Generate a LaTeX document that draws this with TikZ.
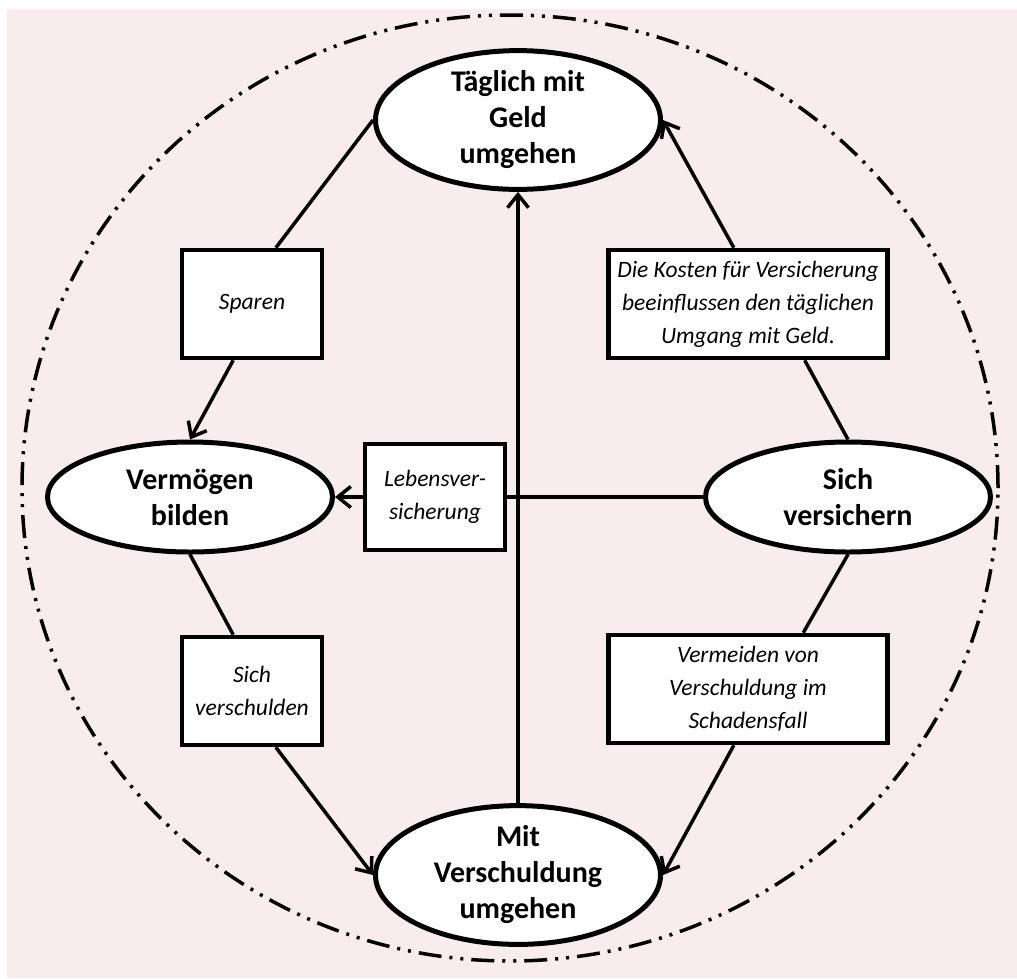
\documentclass[tikz,border=0pt]{standalone}
\usepackage{fontspec}
\setmainfont{Carlito}
\usepackage{tikz}
\usetikzlibrary{arrows.meta,calc,shapes.geometric,positioning}
\definecolor{rosa}{HTML}{F9ECEF}

\begin{document}
\begin{tikzpicture}[x=1pt,y=-1pt,
feld/.style={ellipse,draw,line width=5pt,fill=white,minimum width=285pt,minimum height=110pt,inner sep=0pt,align=center,font=\bfseries\fontsize{30}{36}\selectfont},
kasten/.style={rectangle,draw,line width=4.5pt,fill=white,inner sep=0pt,align=center,font=\itshape\fontsize{23.5}{33}\selectfont},
pfeil/.style={line width=3.5pt,-{Straight Barb[length=13pt,width=21pt,line width=3.5pt]}},
linie/.style={line width=3.5pt}]
\useasboundingbox (0,0) rectangle (1017,978);
\fill[rosa] (7,9) rectangle (1017,978);
\draw[line width=3.5pt,dash pattern=on 23pt off 8pt on 3pt off 8pt on 3pt off 8pt] (510,488) ellipse (488pt and 473pt);
% Handlungsfelder
\node[feld] (taeglich) at (518,120) {Täglich mit\\Geld\\umgehen};
\node[feld] (vermoegen) at (190,497) {Vermögen\\bilden};
\node[feld] (versichern) at (848,497) {Sich\\versichern};
\node[feld] (schulden) at (518,875) {Mit\\Verschuldung\\umgehen};
% Beziehungen
\node[kasten,minimum width=140pt,minimum height=108pt] (sparen) at (252,304) {Sparen};
\node[kasten,minimum width=279pt,minimum height=108pt] (kosten) at (748,304) {Die Kosten für Versicherung\\beeinflussen den täglichen\\Umgang mit Geld.};
\node[kasten,minimum width=140pt,minimum height=106pt] (lebensv) at (435,497) {Lebensver-\\sicherung};
\node[kasten,minimum width=140pt,minimum height=108pt] (verschulden) at (252,691) {Sich\\verschulden};
\node[kasten,minimum width=279pt,minimum height=108pt] (vermeiden) at (748,689) {Vermeiden von\\Verschuldung im\\Schadensfall};
\draw[linie] (taeglich.west) -- ($(sparen.north)!.33!(sparen.north east)$);
\draw[pfeil] ($(sparen.south)!.26!(sparen.south west)$) -- (vermoegen.north);
\draw[linie] (versichern.north) -- ($(kosten.south)!.4!(kosten.south east)$);
\draw[pfeil] ($(kosten.north)!.1!(kosten.north west)$) -- (taeglich.east);
\draw[linie] (versichern.west) -- (lebensv.east);
\draw[pfeil] (lebensv.west) -- (vermoegen.east);
\draw[linie] (vermoegen.south) -- ($(verschulden.north)!.26!(verschulden.north west)$);
\draw[pfeil] ($(verschulden.south)!.33!(verschulden.south east)$) -- (schulden.west);
\draw[linie] (versichern.south) -- ($(vermeiden.north)!.39!(vermeiden.north east)$);
\draw[pfeil] ($(vermeiden.south)!.1!(vermeiden.south west)$) -- (schulden.east);
\draw[pfeil,{Straight Barb[length=13pt,width=21pt,line width=3.5pt]}-] (taeglich.south) -- (schulden.north);
\end{tikzpicture}
\end{document}
